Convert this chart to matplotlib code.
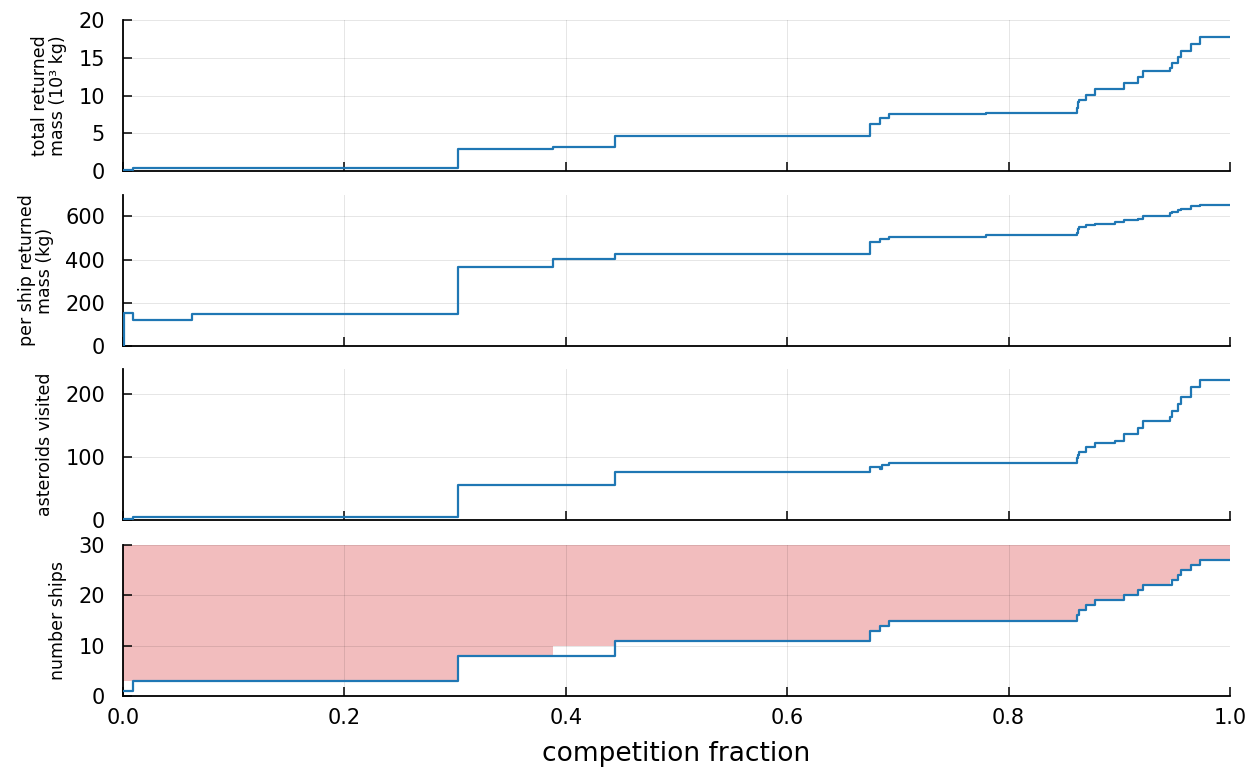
import matplotlib.pyplot as plt

# competition fraction at each change (step-post)
frac = [0.0, 0.001, 0.009, 0.062, 0.303, 0.388, 0.444, 0.675, 0.684, 0.686, 0.692,
        0.780, 0.8615, 0.8625, 0.864, 0.870, 0.878, 0.896, 0.904, 0.9166, 0.921,
        0.946, 0.948, 0.953, 0.956, 0.965, 0.973, 1.0]

total_mass = [0.0, 0.15, 0.36, 0.44, 2.9, 3.2, 4.7, 6.2, 7.0, 7.0, 7.6,
              7.7, 8.4, 9.2, 9.4, 10.1, 10.8, 10.9, 11.7, 12.4, 13.25,
              13.6, 14.35, 15.05, 15.9, 16.8, 17.7, 17.7]

per_ship = [0, 154, 119, 146, 365, 402, 427, 482, 497, 497, 505,
            513, 525, 540, 550, 560, 566, 573, 583, 590, 602,
            615, 622, 628, 636, 646, 653, 653]

asteroids = [0, 1, 4, 4, 55, 55, 76, 84, 81, 88, 91,
             91, 99, 104, 108, 116, 123, 125, 136, 147, 157,
             163, 173, 184, 195, 212, 223, 223]

ships = [1, 1, 3, 3, 8, 8, 11, 13, 14, 14, 15,
         15, 16, 16, 17, 18, 19, 19, 20, 21, 22,
         22, 23, 24, 25, 26, 27, 27]

# lower edge of the shaded band, top is the fleet cap
ships_band_low = [3, 3, 3, 3, 8, 10, 11, 13, 14, 14, 15,
                  15, 16, 16, 17, 18, 19, 19, 20, 21, 22,
                  23, 23, 24, 25, 26, 27, 27]
ship_cap = 30

LINE = '#1f77b4'

panels = [
    (total_mass, "total returned\nmass (10³ kg)", (0, 20), [0, 5, 10, 15, 20]),
    (per_ship, "per ship returned\nmass (kg)", (0, 699), [0, 200, 400, 600]),
    (asteroids, "asteroids visited", (0, 240), [0, 100, 200]),
    (ships, "number ships", (0, 30), [0, 10, 20, 30]),
]

fig = plt.figure(figsize=(12.51, 7.67), dpi=100)
W, H = 1251, 767
tops = [20, 195, 369, 545]
bottoms = [171, 346, 520, 696]

for i, (vals, label, ylim, yticks) in enumerate(panels):
    ax = fig.add_axes([123 / W, 1 - bottoms[i] / H, 1107 / W, (bottoms[i] - tops[i]) / H])

    if i == 3:
        ax.fill_between(frac, ships_band_low, ship_cap, step='post',
                        color='tab:red', alpha=0.3, lw=0)
    ax.step(frac, vals, where='post', color=LINE, lw=1.6, zorder=3)

    ax.set_xlim(0, 1)
    ax.set_ylim(*ylim)
    ax.set_xticks([0, 0.2, 0.4, 0.6, 0.8, 1.0])
    ax.set_yticks(yticks)
    ax.grid(True, color='k', alpha=0.1, lw=0.7)

    for s in ['top', 'right']:
        ax.spines[s].set_visible(False)
    for s in ['left', 'bottom']:
        ax.spines[s].set_linewidth(1.3)

    ax.tick_params(axis='both', direction='in', length=6.5, width=1.1, labelsize=15)
    ax.tick_params(axis='y', pad=13)
    ax.tick_params(axis='x', pad=9)
    ax.set_ylabel(label, fontsize=12.5, labelpad=8, linespacing=1.0)

    if i < 3:
        ax.tick_params(axis='x', labelbottom=False)
    else:
        ax.set_xlabel("competition fraction", fontsize=19, labelpad=9)

fig.savefig('out.png', dpi=100)
